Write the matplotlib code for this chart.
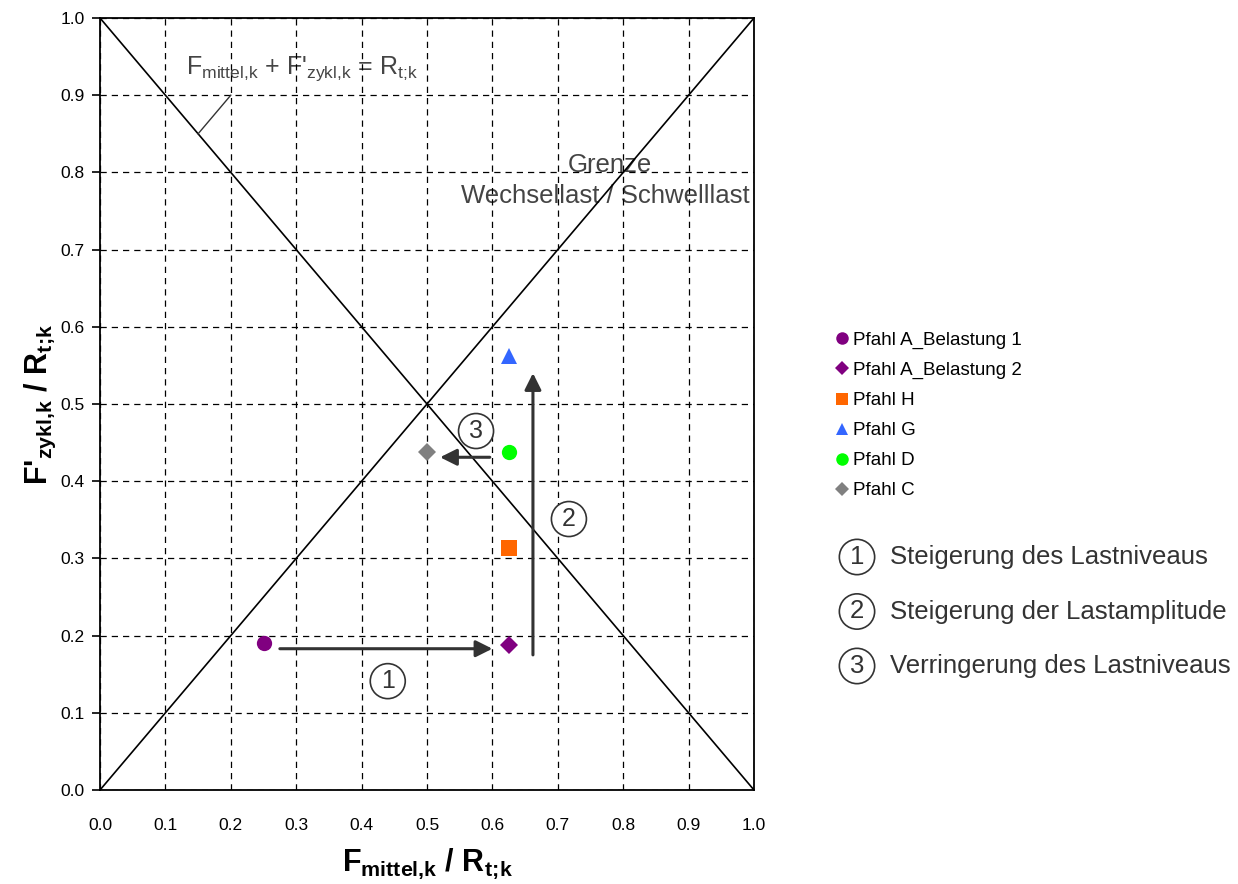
import matplotlib
matplotlib.use("Agg")
import matplotlib.pyplot as plt

plt.rcParams['font.family'] = ['Liberation Sans', 'DejaVu Sans']
plt.rcParams['mathtext.fontset'] = 'custom'
plt.rcParams['mathtext.rm'] = 'Liberation Sans'
plt.rcParams['mathtext.it'] = 'Liberation Sans'
plt.rcParams['mathtext.bf'] = 'Liberation Sans:bold'

# data
names = ["Pfahl A_Belastung 1", "Pfahl A_Belastung 2", "Pfahl H", "Pfahl G", "Pfahl D", "Pfahl C"]
x_vals = [0.25, 0.625, 0.625, 0.625, 0.625, 0.50]
y_vals = [0.19, 0.188, 0.313, 0.562, 0.438, 0.438]
markers = ["o", "D", "s", "^", "o", "D"]
colors = ["#800080", "#800080", "#FF6600", "#3366FF", "#00FF00", "#808080"]
msizes = [11, 9, 11, 11, 11, 9]

ticks = [0.0, 0.1, 0.2, 0.3, 0.4, 0.5, 0.6, 0.7, 0.8, 0.9, 1.0]
tick_labels = ["0.0", "0.1", "0.2", "0.3", "0.4", "0.5", "0.6", "0.7", "0.8", "0.9", "1.0"]

# arrows: (x_start, y_start, x_end, y_end)
arrows = [(0.275, 0.183, 0.60, 0.183),
          (0.662, 0.175, 0.662, 0.54),
          (0.596, 0.431, 0.52, 0.431)]
circ_labels = ["1", "2", "3"]
circ_pos = [(0.44, 0.141), (0.717, 0.351), (0.575, 0.465)]
step_texts = ["Steigerung des Lastniveaus", "Steigerung der Lastamplitude", "Verringerung des Lastniveaus"]

fig = plt.figure(figsize=(12.38, 8.84), dpi=100)
ax = fig.add_axes([100/1238, 94/884, 654/1238, 772/884])
ax.set_xlim(0, 1)
ax.set_ylim(0, 1)
ax.set_xticks(ticks)
ax.set_yticks(ticks)
ax.set_xticklabels(tick_labels, fontsize=12.5)
ax.set_yticklabels(tick_labels, fontsize=12.5)
ax.tick_params(axis='y', direction='out', length=6, width=1.2, pad=5)
ax.tick_params(axis='x', direction='out', length=0, width=1.2, pad=20)
ax.grid(True, color='black', linestyle=(0, (5, 4)), linewidth=0.9)
for s in ax.spines.values():
    s.set_linewidth(1.3)

# diagonal lines
ax.plot([0, 1], [0, 1], color='black', lw=1.2, zorder=2)
ax.plot([0, 1], [1, 0], color='black', lw=1.2, zorder=2)

# leader line and equation text
ax.plot([0.15, 0.2], [0.85, 0.9], color='#333333', lw=1.0, zorder=2)
ax.text(0.132, 0.935, r"F$_{\mathrm{mittel{,}k}}$ + F'$_{\mathrm{zykl{,}k}}$ = R$_{\mathrm{t;\!k}}$",
        fontsize=18, color='#444444', ha='left', va='center', zorder=1)
ax.text(0.78, 0.81, "Grenze", fontsize=18.5, color='#444444', ha='center', va='center', zorder=1)
ax.text(0.994, 0.77, "Wechsellast / Schwelllast", fontsize=18.5, color='#444444',
        ha='right', va='center', zorder=1)

# arrows
for (x0, y0, x1, y1) in arrows:
    ax.annotate("", xy=(x1, y1), xytext=(x0, y0),
                arrowprops=dict(arrowstyle='-|>,head_length=0.5,head_width=0.25',
                                mutation_scale=20, color='#333333', lw=2.2,
                                shrinkA=0, shrinkB=0), zorder=4)

# circled numbers in plot
for lbl, (cx, cy) in zip(circ_labels, circ_pos):
    ax.text(cx, cy, lbl, fontsize=18, color='#333333', ha='center', va='center', zorder=5,
            bbox=dict(boxstyle='circle,pad=0.22', fc='white', ec='#333333', lw=1.2))

# points
for n, xv, yv, m, c, ms in zip(names, x_vals, y_vals, markers, colors, msizes):
    ax.plot([xv], [yv], linestyle='none', marker=m, color=c, markersize=ms,
            markeredgewidth=0, label=n, zorder=6, clip_on=False)

leg_handles = []
for n, m, c in zip(names, markers, colors):
    hh, = ax.plot([], [], linestyle='none', marker=m, color=c,
                  markersize=(9 if m != 'D' else 7.5), markeredgewidth=0, label=n)
    leg_handles.append(hh)

leg = fig.legend(handles=leg_handles, loc='upper left', bbox_to_anchor=(825/1238, 1 - 324/884),
                 frameon=False, fontsize=13.5, handletextpad=0.1, labelspacing=0.69,
                 handlelength=1.0, borderaxespad=0)

ax.set_xlabel(r"F$_{\mathbf{mittel{,}k}}$ / R$_{\mathbf{t;\!k}}$", fontsize=22, fontweight='bold', labelpad=10)
ax.set_ylabel(r"F'$_{\mathbf{zykl{,}k}}$ / R$_{\mathbf{t;\!k}}$", fontsize=22, fontweight='bold', labelpad=2)

# step legend
for i, (lbl, txt) in enumerate(zip(circ_labels, step_texts)):
    yy = 1 - (557 + 54.5 * i) / 884
    fig.text(857/1238, yy, lbl, fontsize=18.5, color='#333333', ha='center', va='center',
             bbox=dict(boxstyle='circle,pad=0.22', fc='white', ec='#333333', lw=1.2))
    fig.text(890/1238, yy, txt, fontsize=18.5, color='#333333', ha='left', va='center')

fig.savefig("out.png", dpi=100)
